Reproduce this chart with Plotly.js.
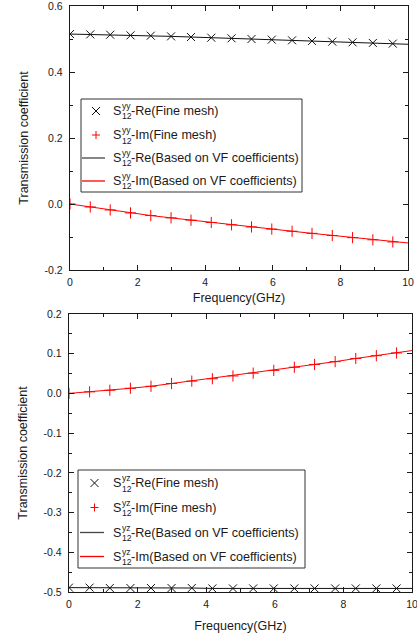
<!DOCTYPE html>
<html><head><meta charset="utf-8">
<script src="https://cdn.plot.ly/plotly-3.0.1.min.js"></script>
<style>html,body{margin:0;padding:0;background:#fff}#chart{width:417px;height:636px}</style>
</head><body><div id="chart"></div>
<script>
// ---- data ----
const freqMesh = [0, 0.6, 1.19, 1.79, 2.39, 2.99, 3.58, 4.18, 4.78, 5.37, 5.97, 6.57, 7.16, 7.76, 8.36, 8.96, 9.55];
const freqVF   = [0, 0.6, 1.19, 1.79, 2.39, 2.99, 3.58, 4.18, 4.78, 5.37, 5.97, 6.57, 7.16, 7.76, 8.36, 8.96, 9.55, 10];

const yyReMesh = [0.515, 0.514, 0.513, 0.511, 0.510, 0.508, 0.506, 0.504, 0.502, 0.500, 0.498, 0.496, 0.494, 0.492, 0.490, 0.488, 0.486];
const yyImMesh = [0, -0.009, -0.018, -0.027, -0.035, -0.042, -0.049, -0.056, -0.063, -0.0695, -0.076, -0.0825, -0.089, -0.0955, -0.102, -0.1085, -0.115];
const yyReVF   = [0.515, 0.514, 0.513, 0.511, 0.510, 0.508, 0.506, 0.504, 0.502, 0.500, 0.498, 0.496, 0.494, 0.492, 0.490, 0.488, 0.486, 0.484];
const yyImVF   = [0, -0.009, -0.018, -0.027, -0.035, -0.042, -0.049, -0.056, -0.063, -0.0695, -0.076, -0.0825, -0.089, -0.0955, -0.102, -0.1085, -0.115, -0.118];

const yzReMesh = [-0.489, -0.489, -0.490, -0.490, -0.490, -0.490, -0.490, -0.491, -0.491, -0.491, -0.491, -0.491, -0.491, -0.491, -0.491, -0.491, -0.491];
const yzImMesh = [0, 0.004, 0.008, 0.013, 0.018, 0.025, 0.031, 0.037, 0.044, 0.051, 0.058, 0.066, 0.073, 0.080, 0.088, 0.095, 0.102];
const yzReVF   = [-0.489, -0.489, -0.490, -0.490, -0.490, -0.490, -0.490, -0.491, -0.491, -0.491, -0.491, -0.491, -0.491, -0.491, -0.491, -0.491, -0.491, -0.491];
const yzImVF   = [0, 0.004, 0.008, 0.013, 0.018, 0.025, 0.031, 0.037, 0.044, 0.051, 0.058, 0.066, 0.073, 0.080, 0.088, 0.095, 0.102, 0.108];

const xTickVals = [0, 2, 4, 6, 8, 10];
const xTickText = ['0', '2', '4', '6', '8', '10'];
const xMinorVals = [1, 3, 5, 7, 9];
const y1TickVals = [-0.2, 0, 0.2, 0.4, 0.6];
const y1TickText = ['-0.2', '0.0', '0.2', '0.4', '0.6'];
const y1MinorVals = [-0.1, 0.1, 0.3, 0.5];
const y2TickVals = [-0.5, -0.4, -0.3, -0.2, -0.1, 0, 0.1, 0.2];
const y2TickText = ['-0.5', '-0.4', '-0.3', '-0.2', '-0.1', '0.0', '0.1', '0.2'];
const y2MinorVals = [-0.45, -0.35, -0.25, -0.15, -0.05, 0.05, 0.15];

const xTitle = 'Frequency(GHz)';
const yTitle = 'Transmission coefficient';
const legendText = ['-Re(Fine mesh)', '-Im(Fine mesh)', '-Re(Based on VF coefficients)', '-Im(Based on VF coefficients)'];
const symbolS = 'S', supTop = 'yy', supBottom = 'yz', subIdx = '12';

// ---- styling ----
const FONT = 'Arial, "Liberation Sans", sans-serif';
const INK = '#1a1a1a';
const BLK = '#111111';
const RED = '#ff0000';

function lineTrace(x, y, xa, ya, color) {
  return {x: x, y: y, xaxis: xa, yaxis: ya, mode: 'lines', line: {color: color, width: 1}, hoverinfo: 'skip'};
}
function markTrace(x, y, xa, ya, symbol, color) {
  return {x: x, y: y, xaxis: xa, yaxis: ya, mode: 'markers', hoverinfo: 'skip',
    marker: {symbol: symbol, size: 8, color: color, line: {color: color, width: 1}}};
}
const traces = [
  lineTrace(freqVF, yyReVF, 'x', 'y', BLK),
  lineTrace(freqVF, yyImVF, 'x', 'y', RED),
  markTrace(freqMesh, yyReMesh, 'x', 'y', 'x-thin-open', BLK),
  markTrace(freqMesh, yyImMesh, 'x', 'y', 'cross-thin-open', RED),
  lineTrace(freqVF, yzReVF, 'x2', 'y2', BLK),
  lineTrace(freqVF, yzImVF, 'x2', 'y2', RED),
  markTrace(freqMesh, yzReMesh, 'x2', 'y2', 'x-thin-open', BLK),
  markTrace(freqMesh, yzImMesh, 'x2', 'y2', 'cross-thin-open', RED)
];

// layout geometry (pixels of the 417x636 page)
const ML = 69, MR = 5, MT = 6, MB = 44;
const PW = 417 - ML - MR, PH = 636 - MT - MB;
const px = v => (v - ML) / PW;
const py = v => (636 - MB - v) / PH;

const common = {
  showgrid: false, zeroline: false, showline: true, linecolor: INK, linewidth: 1.2,
  mirror: 'allticks', ticks: 'inside', ticklen: 5, tickwidth: 1, tickcolor: INK,
  tickfont: {family: FONT, size: 10.5, color: INK}, tickmode: 'array', fixedrange: true,
  ticklabeloverflow: 'allow'
};
function xa(domain, standoff) {
  return Object.assign({}, common, {
    domain: domain, range: [0, 10], tickvals: xTickVals, ticktext: xTickText,
    minor: {tickmode: 'array', tickvals: xMinorVals, ticks: 'inside', ticklen: 3, tickcolor: INK},
    ticklabelstandoff: 2,
    title: {text: xTitle, font: {family: FONT, size: 12.5, color: INK}, standoff: standoff}
  });
}
function ya(domain, range, tv, tt, mv) {
  return Object.assign({}, common, {
    domain: domain, range: range, tickvals: tv, ticktext: tt,
    minor: {tickmode: 'array', tickvals: mv, ticks: 'inside', ticklen: 3, tickcolor: INK},
    ticklabelstandoff: 4,
    title: {text: yTitle, font: {family: FONT, size: 12.5, color: INK}, standoff: 13}
  });
}

const shapes = [], annotations = [];
function seg(x0, y0, x1, y1, color, w) {
  shapes.push({type: 'line', xref: 'paper', yref: 'paper', x0: px(x0), x1: px(x1), y0: py(y0), y1: py(y1), line: {color: color, width: w}});
}
function label(x, y, text, size) {
  annotations.push({xref: 'paper', yref: 'paper', x: px(x), y: py(y), xanchor: 'left', yanchor: 'middle',
    text: text, showarrow: false, borderpad: 0, font: {family: FONT, size: size, color: INK}});
}
function legend(box, rowsY, symX, lineX0, lineX1, textX, sup) {
  shapes.push({type: 'rect', xref: 'paper', yref: 'paper', x0: px(box[0]), x1: px(box[1]), y0: py(box[3]), y1: py(box[2]),
    line: {color: '#333', width: 1}, fillcolor: 'rgba(255,255,255,0)', layer: 'above'});
  const h = 4;
  seg(symX - h, rowsY[0] - h, symX + h, rowsY[0] + h, BLK, 1);
  seg(symX - h, rowsY[0] + h, symX + h, rowsY[0] - h, BLK, 1);
  seg(symX - h, rowsY[1], symX + h, rowsY[1], RED, 1);
  seg(symX, rowsY[1] - h, symX, rowsY[1] + h, RED, 1);
  seg(lineX0, rowsY[2], lineX1, rowsY[2], '#444', 1.3);
  seg(lineX0, rowsY[3], lineX1, rowsY[3], RED, 1.3);
  for (let i = 0; i < 4; i++) {
    const y = rowsY[i];
    label(textX, y, symbolS, 12.6);
    label(textX + 8.6, y - 5, sup, 8.6);
    label(textX + 8.6, y + 5.5, subIdx, 8.6);
    label(textX + 18.2, y, legendText[i], 12.6);
  }
}
legend([81, 302, 99, 192], [111, 135, 158, 181], 96, 82, 105, 112, supTop);
legend([78, 305, 470, 568], [483, 507.5, 532.5, 556.5], 94.5, 80, 104, 112, supBottom);

const layout = {
  width: 417, height: 636, paper_bgcolor: '#fff', plot_bgcolor: '#fff',
  margin: {l: ML, r: MR, t: MT, b: MB}, showlegend: false,
  font: {family: FONT, color: INK},
  xaxis: Object.assign(xa([px(70), px(408)], 6), {anchor: 'y'}),
  yaxis: Object.assign(ya([py(270), py(6)], [-0.2, 0.6], y1TickVals, y1TickText, y1MinorVals), {anchor: 'x'}),
  xaxis2: Object.assign(xa([px(69), px(412)], 12), {anchor: 'y2'}),
  yaxis2: Object.assign(ya([py(592), py(314)], [-0.5, 0.2], y2TickVals, y2TickText, y2MinorVals), {anchor: 'x2'}),
  shapes: shapes, annotations: annotations
};
Plotly.newPlot('chart', traces, layout, {staticPlot: true, displayModeBar: false});
</script></body></html>
